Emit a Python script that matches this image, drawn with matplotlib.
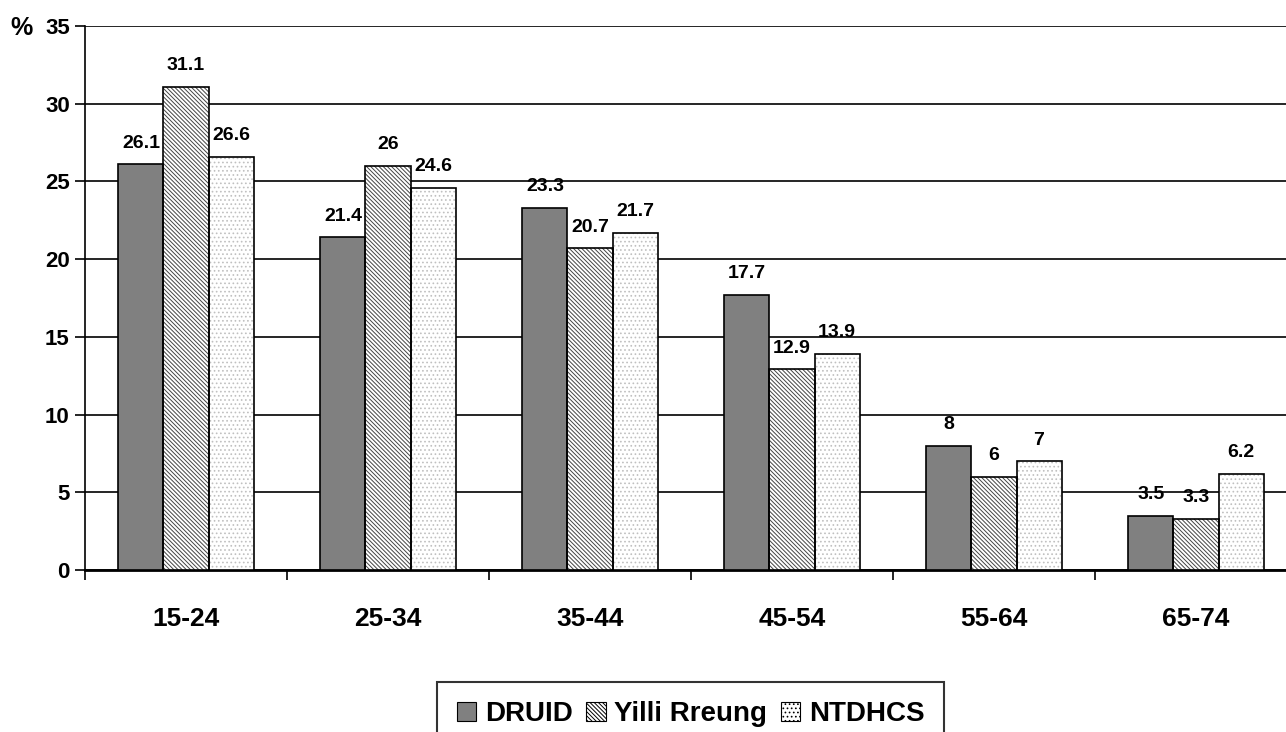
import matplotlib
matplotlib.use("Agg")
import matplotlib.pyplot as plt
import numpy as np
from matplotlib.patches import Patch

categories = ["15-24", "25-34", "35-44", "45-54", "55-64", "65-74"]
series_names = ["DRUID", "Yilli Rreung", "NTDHCS"]
druid = [26.1, 21.4, 23.3, 17.7, 8, 3.5]
yilli = [31.1, 26, 20.7, 12.9, 6, 3.3]
ntdhcs = [26.6, 24.6, 21.7, 13.9, 7, 6.2]
value_labels = [
    ["26.1", "21.4", "23.3", "17.7", "8", "3.5"],
    ["31.1", "26", "20.7", "12.9", "6", "3.3"],
    ["26.6", "24.6", "21.7", "13.9", "7", "6.2"],
]
yticks = [0, 5, 10, 15, 20, 25, 30, 35]

plt.rcParams['font.family'] = ['Liberation Sans', 'DejaVu Sans']
plt.rcParams['font.weight'] = 'bold'
plt.rcParams['hatch.linewidth'] = 0.7

fig = plt.figure(figsize=(12.86, 7.32), dpi=100)
ax = fig.add_axes([85/1286, 1-570/732, (1297-85)/1286, (570-26)/732])

x = np.arange(len(categories))
w = 0.223
styles = [
    dict(facecolor="#808080", hatch=None, hcolor="#808080"),
    dict(facecolor="white", hatch="\\\\\\\\\\\\\\\\", hcolor="#444444"),
    dict(facecolor="white", hatch="....", hcolor="#c0c0c0"),
]
data = [druid, yilli, ntdhcs]
for i, (vals, st) in enumerate(zip(data, styles)):
    pos = x + (i - 1) * w
    ax.bar(pos, vals, width=w, facecolor=st["facecolor"], edgecolor=st["hcolor"],
           hatch=st["hatch"], linewidth=0, zorder=3, label=series_names[i])
    ax.bar(pos, vals, width=w, facecolor="none", edgecolor="black", linewidth=1.2, zorder=4)
    for p, v, lab in zip(pos, vals, value_labels[i]):
        ax.annotate(lab, (p, v), xytext=(0, 9), textcoords="offset points",
                    ha="center", va="bottom", fontsize=14, fontweight="bold")

ax.set_xlim(-0.5, len(categories) - 0.5)
ax.set_ylim(0, 35)
ax.set_yticks(yticks)
ax.set_yticklabels([str(t) for t in yticks], fontsize=16, fontweight="bold")
ax.yaxis.grid(True, color="black", linewidth=1.2, zorder=0)
ax.set_axisbelow(True)
ax.tick_params(axis="y", length=7, width=1.2, direction="out", pad=4)

ax.set_xticks(np.arange(len(categories) + 1) - 0.5)
ax.set_xticklabels([])
ax.tick_params(axis="x", which="major", length=7, width=1.2, direction="out")
ax.set_xticks(x, minor=True)
ax.set_xticklabels(categories, minor=True, fontsize=19, fontweight="bold")
ax.tick_params(axis="x", which="minor", length=0, pad=27)

for s in ["top", "right"]:
    ax.spines[s].set_visible(False)
ax.spines["left"].set_linewidth(1.2)
ax.spines["bottom"].set_linewidth(2.0)

fig.text(10/1286, 1-28/732, "%", fontsize=18, fontweight="bold", va="center", ha="left")

leg_handles = [Patch(facecolor=st["facecolor"], edgecolor="black", hatch=st["hatch"], linewidth=0.8)
               for st in styles]
leg = fig.legend(leg_handles, series_names, loc="upper center", bbox_to_anchor=(0.537, 1-682/732),
                 ncol=3, frameon=True, fancybox=False, edgecolor="black", borderaxespad=0,
                 prop={"size": 20, "weight": "bold"}, handlelength=0.7, handleheight=0.7,
                 handletextpad=0.3, columnspacing=0.5, borderpad=0.7)
leg.get_frame().set_linewidth(1.5)

fig.savefig("out.png", dpi=100)
